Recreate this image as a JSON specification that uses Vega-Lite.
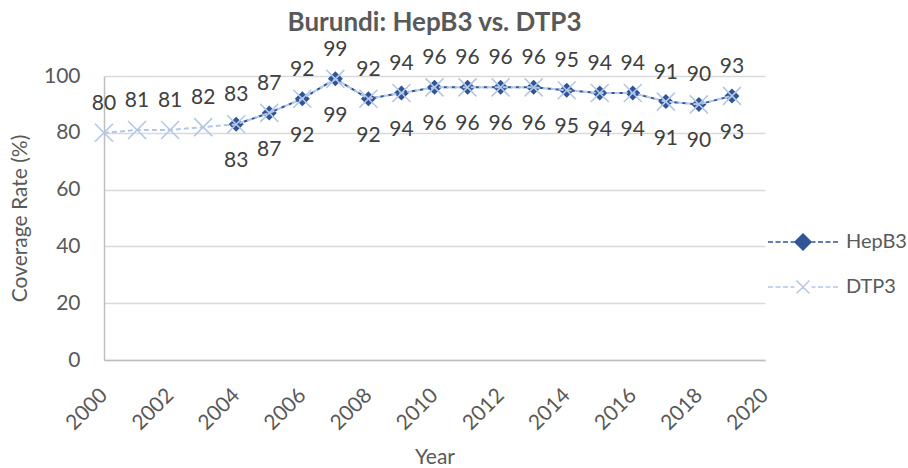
{
  "$schema": "https://vega.github.io/schema/vega-lite/v6.json",
  "width": 661,
  "height": 284,
  "autosize": {"type": "none"},
  "padding": {"left": 104, "top": 76, "right": 143, "bottom": 108},
  "background": "white",
  "title": {
    "text": "Burundi: HepB3 vs. DTP3",
    "frame": "group",
    "anchor": "middle",
    "fontSize": 26,
    "font": "Lato",
    "fontWeight": "bold",
    "color": "#595959",
    "baseline": "alphabetic",
    "offset": -18
  },
  "data": {
    "values": [
      {"series": "DTP3", "year": 2000, "value": 80},
      {"series": "DTP3", "year": 2001, "value": 81},
      {"series": "DTP3", "year": 2002, "value": 81},
      {"series": "DTP3", "year": 2003, "value": 82},
      {"series": "DTP3", "year": 2004, "value": 83},
      {"series": "DTP3", "year": 2005, "value": 87},
      {"series": "DTP3", "year": 2006, "value": 92},
      {"series": "DTP3", "year": 2007, "value": 99},
      {"series": "DTP3", "year": 2008, "value": 92},
      {"series": "DTP3", "year": 2009, "value": 94},
      {"series": "DTP3", "year": 2010, "value": 96},
      {"series": "DTP3", "year": 2011, "value": 96},
      {"series": "DTP3", "year": 2012, "value": 96},
      {"series": "DTP3", "year": 2013, "value": 96},
      {"series": "DTP3", "year": 2014, "value": 95},
      {"series": "DTP3", "year": 2015, "value": 94},
      {"series": "DTP3", "year": 2016, "value": 94},
      {"series": "DTP3", "year": 2017, "value": 91},
      {"series": "DTP3", "year": 2018, "value": 90},
      {"series": "DTP3", "year": 2019, "value": 93},
      {"series": "HepB3", "year": 2004, "value": 83},
      {"series": "HepB3", "year": 2005, "value": 87},
      {"series": "HepB3", "year": 2006, "value": 92},
      {"series": "HepB3", "year": 2007, "value": 99},
      {"series": "HepB3", "year": 2008, "value": 92},
      {"series": "HepB3", "year": 2009, "value": 94},
      {"series": "HepB3", "year": 2010, "value": 96},
      {"series": "HepB3", "year": 2011, "value": 96},
      {"series": "HepB3", "year": 2012, "value": 96},
      {"series": "HepB3", "year": 2013, "value": 96},
      {"series": "HepB3", "year": 2014, "value": 95},
      {"series": "HepB3", "year": 2015, "value": 94},
      {"series": "HepB3", "year": 2016, "value": 94},
      {"series": "HepB3", "year": 2017, "value": 91},
      {"series": "HepB3", "year": 2018, "value": 90},
      {"series": "HepB3", "year": 2019, "value": 93}
    ]
  },
  "encoding": {
    "x": {
      "field": "year",
      "type": "quantitative",
      "title": "Year",
      "scale": {"domain": [2000, 2020], "nice": false, "zero": false},
      "axis": {
        "values": [2000, 2002, 2004, 2006, 2008, 2010, 2012, 2014, 2016, 2018, 2020],
        "format": "d",
        "grid": false,
        "labelAngle": -45,
        "labelAlign": "right",
        "labelBaseline": "middle",
        "labelPadding": 32,
        "labelDx": -6,
        "titlePadding": 13
      }
    },
    "y": {
      "field": "value",
      "type": "quantitative",
      "title": "Coverage Rate (%)",
      "scale": {"domain": [0, 100], "nice": false},
      "axis": {
        "values": [0, 20, 40, 60, 80, 100],
        "grid": true,
        "labelPadding": 24,
        "titlePadding": 13
      }
    }
  },
  "layer": [
    {
      "transform": [{"filter": "datum.series === 'HepB3'"}],
      "mark": {"type": "line", "strokeDash": [5, 3], "strokeWidth": 2},
      "encoding": {
        "color": {
          "field": "series",
          "type": "nominal",
          "scale": {"domain": ["HepB3", "DTP3"], "range": ["#2F5597", "#B4C7E7"]},
          "legend": {
            "orient": "none",
            "legendX": 688,
            "legendY": 155,
            "title": null,
            "padding": 0,
            "symbolSize": 400,
            "symbolStrokeWidth": 1.5,
            "symbolOpacity": 1,
            "labelOffset": 32,
            "rowPadding": 23,
            "labelFontSize": 20,
            "labelFont": "Lato",
            "labelColor": "#595959",
            "encode": {
              "symbols": {
                "update": {
                  "shape": {"signal": "datum.value === 'HepB3' ? 'M-3.5,0L-3,0M-2.75,0L-2.25,0M-2,0L-1.5,0M-1.25,0L-0.85,0M0.85,0L1.25,0M1.5,0L2,0M2.25,0L2.75,0M3,0L3.5,0M0,-0.8L0.8,0L0,0.8L-0.8,0Z' : 'M-3.5,0L-3,0M-2.75,0L-2.25,0M-2,0L-1.5,0M-1.25,0L-0.85,0M0.85,0L1.25,0M1.5,0L2,0M2.25,0L2.75,0M3,0L3.5,0M-0.65,-0.65L0.65,0.65M0.65,-0.65L-0.65,0.65'"},
                  "fill": {"signal": "datum.value === 'HepB3' ? '#2F5597' : '#B4C7E7'"},
                  "stroke": {"signal": "datum.value === 'HepB3' ? '#2F5597' : '#B4C7E7'"},
                  "strokeWidth": {"value": 1.5},
                  "strokeDash": {"value": []}
                }
              }
            }
          }
        }
      }
    },
    {
      "transform": [{"filter": "datum.series === 'HepB3'"}],
      "mark": {"type": "point", "shape": "diamond", "filled": true, "size": 225, "opacity": 1},
      "encoding": {"color": {"field": "series", "type": "nominal"}}
    },
    {
      "transform": [{"filter": "datum.series === 'DTP3'"}],
      "mark": {"type": "line", "strokeDash": [5, 3], "strokeWidth": 2},
      "encoding": {"color": {"field": "series", "type": "nominal"}}
    },
    {
      "transform": [{"filter": "datum.series === 'DTP3'"}],
      "mark": {"type": "point", "shape": "M-1,-1L1,1M1,-1L-1,1", "filled": false, "size": 324, "strokeWidth": 1.6, "opacity": 1},
      "encoding": {"color": {"field": "series", "type": "nominal"}}
    },
    {
      "transform": [{"filter": "datum.series === 'DTP3'"}],
      "mark": {"type": "text", "dy": -29, "fontSize": 21, "font": "Lato", "color": "#404040", "baseline": "middle"},
      "encoding": {"text": {"field": "value", "type": "quantitative"}}
    },
    {
      "transform": [{"filter": "datum.series === 'HepB3'"}],
      "mark": {"type": "text", "dy": 37, "fontSize": 21, "font": "Lato", "color": "#404040", "baseline": "middle"},
      "encoding": {"text": {"field": "value", "type": "quantitative"}}
    }
  ],
  "config": {
    "view": {"stroke": null},
    "axis": {
      "labelFont": "Lato",
      "labelFontSize": 21,
      "labelColor": "#595959",
      "titleFont": "Lato",
      "titleFontSize": 21,
      "titleFontWeight": "normal",
      "titleColor": "#595959",
      "domainColor": "#bfbfbf",
      "domainWidth": 1.5,
      "gridColor": "#d9d9d9",
      "gridWidth": 1.5,
      "ticks": false
    }
  }
}
